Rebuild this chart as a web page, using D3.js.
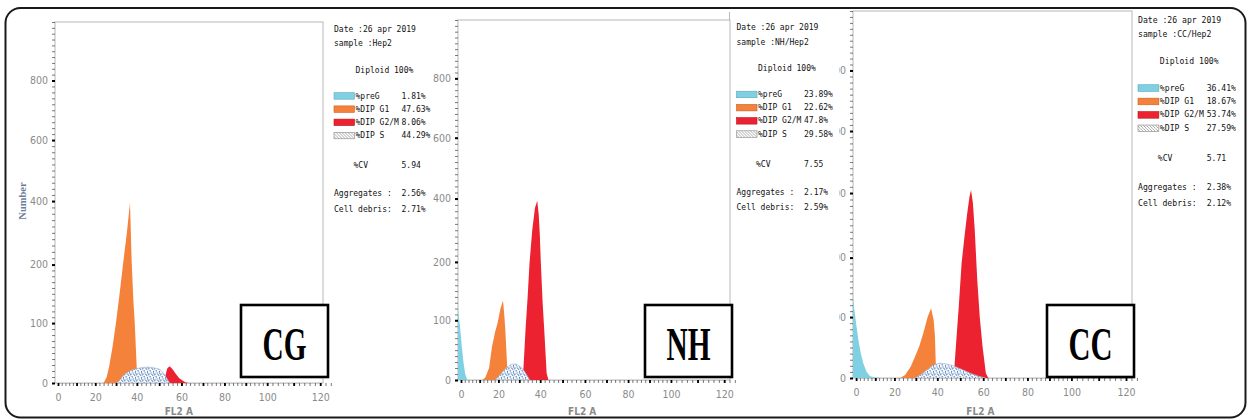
<!DOCTYPE html>
<html>
<head>
<meta charset="utf-8">
<script src="https://cdn.jsdelivr.net/npm/d3@7"></script>
<style>
  body { margin: 0; background: #fff; }
  svg { display: block; }
</style>
</head>
<body>
<svg id="chart" width="1249" height="420"></svg>
<script>
// ---- data ----
var panelNames = ["CG", "NH", "CC"];
var sampleNames = ["Hep2", "NH/Hep2", "CC/Hep2"];
var preGValues = ["1.81%", "23.89%", "36.41%"];
var g1Values = ["47.63%", "22.62%", "18.67%"];
var g2mValues = ["8.06%", "47.8%", "53.74%"];
var sValues = ["44.29%", "29.58%", "27.59%"];
var cvValues = ["5.94", "7.55", "5.71"];
var aggregateValues = ["2.56%", "2.17%", "2.38%"];
var debrisValues = ["2.71%", "2.59%", "2.12%"];

var xTicks = [0, 20, 40, 60, 80, 100, 120];
var yTicks = [0, 100, 200, 400, 600, 800];

// histogram traces: [FL2 A channel, count]
var cgPreG = [];
var cgG1 = [[24,0],[25.5,10],[26.7,28],[28.3,60],[29.9,99],[31.7,150],[33.5,210],[35.2,300],[36.7,395],[37.5,210],[38.3,140],[39,99],[39.9,28],[40.4,0]];
var cgG2M = [[52,0],[52.8,12],[53.6,24],[54.7,28],[56,23],[57.5,15],[59,8],[60.5,4],[62,1],[63.5,0]];
var cgS = [[30.3,0],[32,6],[34.1,15],[37,21],[39.9,24],[42.5,26],[45,26.7],[47.5,25.5],[50.2,23],[51.8,17],[53.2,9],[54.7,0]];

var nhPreG = [[-1.6,118],[-0.6,92],[0.4,57],[1.3,30],[2.2,11],[3,3],[3.6,0]];
var nhG1 = [[11.5,0],[13,4],[15,20],[16.6,56],[18.2,80],[19.6,96],[21,120],[22.2,134],[22.8,110],[23.3,85],[24.1,29],[24.6,0]];
var nhG2M = [[31,0],[32,20],[33,85],[34,140],[34.9,198],[36.2,300],[37.5,370],[38.6,393],[39.3,350],[39.8,290],[40.3,198],[41.1,130],[41.8,85],[42.9,11],[43.7,0]];
var nhS = [[18.4,0],[20,6],[22,14],[24,21],[26,26],[27.5,27],[29,26],[31,21],[33,12],[34,6],[35,0]];

var ccPreG = [[-1.6,133],[-1,115],[0,90],[1.15,63],[2.5,40],[3.8,24],[5.5,10],[7.3,3],[10,1],[12.5,0]];
var ccG1 = [[22.6,0],[25,5],[27.5,18],[29.6,35],[31.6,52],[33.5,74],[35.5,100],[37.1,115],[38.3,95],[38.9,69],[39.3,24],[39.8,0]];
var ccG2M = [[47,0],[47.5,20],[48.1,52],[49.4,120],[50.6,191],[51.8,262],[53,335],[54,388],[54.7,410],[55.5,370],[56.3,288],[57.4,163],[58.5,100],[59.7,52],[61.2,8],[62.3,0]];
var ccS = [[29.6,0],[32,5],[35.1,13],[38,21],[41.2,24.5],[44,23],[47,20],[51.3,13],[55,7],[58,3],[61,0]];

var traces = [
  { preG: cgPreG, g1: cgG1, g2m: cgG2M, s: cgS },
  { preG: nhPreG, g1: nhG1, g2m: nhG2M, s: nhS },
  { preG: ccPreG, g1: ccG1, g2m: ccG2M, s: ccS }
];

// ---- layout ----
var layout = [
  { left: 55,  top: 22, w: 272, h: 361, frameW: 268, infoX: 334,    infoY: 31.5, k: 1 },
  { left: 458, top: 20, w: 273, h: 360, frameW: 272, infoX: 736.5,  infoY: 30,   k: 1 },
  { left: 853, top: 11, w: 280, h: 367, frameW: 279, infoX: 1138,   infoY: 22.5, k: 1.017 }
];
var xFrac = [0.011, 0.148, 0.301, 0.465, 0.623, 0.780, 0.975];
var yFrac = [0, 0.166, 0.328, 0.504, 0.673, 0.838, 1.0];

var cyan = "#7fd0e2", orange = "#f4823a", red = "#ec2230";
var axisFont = "'Liberation Sans Narrow', 'DejaVu Sans Condensed', sans-serif";
var monoFont = "'DejaVu Sans Mono', 'Liberation Mono', monospace";

var svg = d3.select("#chart");
svg.append("rect").attr("width", 1249).attr("height", 420).attr("fill", "#fff");

var defs = svg.append("defs");
var stip = defs.append("pattern").attr("id", "stip")
  .attr("patternUnits", "userSpaceOnUse").attr("width", 6).attr("height", 6);
stip.append("rect").attr("width", 6).attr("height", 6).attr("fill", "#f4f7fb");
stip.append("path")
  .attr("d", "M0.5,1h1.2M3.5,0.3v1.2M2,3.2h1.3M4.6,3.8l0.9,0.9M0.4,4.3v1.2M3,5.4h1M5.2,1.6v1M1.5,2.2l0.8,0.8M4,2.2h0.9")
  .attr("stroke", "#3466aa").attr("stroke-width", 0.85);
var hatch = defs.append("pattern").attr("id", "hatch")
  .attr("patternUnits", "userSpaceOnUse").attr("width", 3).attr("height", 3);
hatch.append("rect").attr("width", 3).attr("height", 3).attr("fill", "#fff");
hatch.append("path").attr("d", "M0,0L3,3").attr("stroke", "#888").attr("stroke-width", 0.7);

function drawPlot(i) {
  var L = layout[i], T = traces[i];
  var bottom = L.top + L.h;
  var x = d3.scaleLinear().domain(xTicks).range(xFrac.map(function(f) { return L.left + f * L.w; }));
  var y = d3.scaleLinear().domain(yTicks.concat([1000])).range(yFrac.map(function(f) { return bottom - f * L.h; }));

  var g = svg.append("g");
  g.append("rect")
    .attr("x", L.left).attr("y", L.top).attr("width", L.frameW).attr("height", L.h)
    .attr("fill", "#fff").attr("stroke", "#b8b8b8").attr("stroke-width", 1);

  var clipId = "clip" + i;
  defs.append("clipPath").attr("id", clipId).append("rect")
    .attr("x", L.left).attr("y", L.top).attr("width", L.w).attr("height", L.h);

  var area = d3.area()
    .x(function(d) { return x(d[0]); })
    .y0(y(0))
    .y1(function(d) { return y(d[1]); });

  var plot = g.append("g").attr("clip-path", "url(#" + clipId + ")");
  var layers = [
    { data: T.preG, fill: cyan, stroke: "none" },
    { data: T.g1, fill: orange, stroke: "none" },
    { data: T.g2m, fill: red, stroke: "none" },
    { data: T.s, fill: "url(#stip)", stroke: "#9fb3cc" }
  ];
  layers.forEach(function(l) {
    if (!l.data.length) return;
    plot.append("path").datum(l.data)
      .attr("d", area).attr("fill", l.fill)
      .attr("stroke", l.stroke).attr("stroke-width", 0.6);
  });

  // y axis: minor ticks, major ticks, labels
  var yMinor = d3.range(0, 200, 10).concat(d3.range(200, 1001, 20));
  g.append("g").attr("transform", "translate(" + L.left + ",0)")
    .call(d3.axisLeft(y).tickValues(yMinor).tickSize(3).tickFormat(""))
    .call(function(a) {
      a.select(".domain").remove();
      a.selectAll("line").attr("stroke", "#555").attr("stroke-width", 0.8);
    });
  g.append("g").attr("transform", "translate(" + L.left + ",0)")
    .call(d3.axisLeft(y).tickValues(yTicks).tickSize(3).tickPadding(4))
    .call(function(a) {
      a.select(".domain").remove();
      a.selectAll("line").attr("stroke", "#000").attr("stroke-width", 2);
      a.selectAll("text").attr("fill", "#8a8a8a")
        .style("font-family", axisFont).style("font-size", "10.5px");
    });

  // x axis
  var xMinor = d3.range(0, 125, 2);
  g.append("g").attr("transform", "translate(0," + bottom + ")")
    .call(d3.axisBottom(x).tickValues(xMinor).tickSize(3).tickFormat(""))
    .call(function(a) {
      a.select(".domain").attr("stroke", "#ccc");
      a.selectAll("line").attr("stroke", "#555").attr("stroke-width", 0.8);
    });
  g.append("g").attr("transform", "translate(0," + bottom + ")")
    .call(d3.axisBottom(x).tickValues(d3.range(0, 121, 10)).tickSize(3).tickFormat(""))
    .call(function(a) {
      a.select(".domain").remove();
      a.selectAll("line").attr("stroke", "#000").attr("stroke-width", 1.8);
    });
  g.append("g").attr("transform", "translate(0," + bottom + ")")
    .call(d3.axisBottom(x).tickValues(xTicks).tickSize(0).tickPadding(11))
    .call(function(a) {
      a.select(".domain").remove();
      a.selectAll("text").attr("fill", "#8a8a8a")
        .style("font-family", axisFont).style("font-size", "10.5px");
    });

  g.append("text")
    .attr("x", L.left + 0.455 * L.w).attr("y", 415)
    .attr("text-anchor", "middle").attr("fill", "#8a8a8a")
    .style("font-family", axisFont).style("font-size", "10px").style("font-weight", "bold")
    .text("FL2 A");

  // sample label box
  var bx = L.left + L.w - 86, by = 305;
  g.append("rect").attr("x", bx).attr("y", by).attr("width", 87).attr("height", 72)
    .attr("fill", "#fff").attr("stroke", "#000").attr("stroke-width", 2.6);
  g.append("text")
    .attr("x", bx + 43.5).attr("y", by + 55)
    .attr("text-anchor", "middle")
    .attr("textLength", 44).attr("lengthAdjust", "spacingAndGlyphs")
    .style("font-family", "'Liberation Serif', 'DejaVu Serif', serif")
    .style("font-weight", "bold").style("font-size", "46px")
    .text(panelNames[i]);
}

function drawInfo(i) {
  var L = layout[i];
  var g = svg.append("g").attr("transform", "translate(" + L.infoX + "," + L.infoY + ") scale(" + L.k + ")");
  function txt(x, dy, s) {
    g.append("text").attr("x", x).attr("y", dy)
      .style("font-family", monoFont).style("font-size", "8px").attr("fill", "#111")
      .text(s);
  }
  var lx = 21.5, vx = 67.5;
  txt(0, 0, "Date :26 apr 2019");
  txt(0, 14.5, "sample :" + sampleNames[i]);
  txt(lx, 41, "Diploid 100%");
  var legend = [
    { label: "%preG", value: preGValues[i], fill: cyan, stroke: "#5aaabb" },
    { label: "%DIP G1", value: g1Values[i], fill: orange, stroke: "#c8602a" },
    { label: "%DIP G2/M", value: g2mValues[i], fill: red, stroke: "#b01820" },
    { label: "%DIP S", value: sValues[i], fill: "url(#hatch)", stroke: "#888" }
  ];
  legend.forEach(function(r, j) {
    var dy = 67 + j * 13.2;
    g.append("rect").attr("x", 0).attr("y", dy - 5.8).attr("width", 20.5).attr("height", 6.5)
      .attr("fill", r.fill).attr("stroke", r.stroke).attr("stroke-width", 0.6);
    txt(lx, dy, r.label);
    txt(vx, dy, r.value);
  });
  txt(lx - 2, 136.5, "%CV");
  txt(vx, 136.5, cvValues[i]);
  txt(0, 164.5, "Aggregates :");
  txt(vx, 164.5, aggregateValues[i]);
  txt(0, 180, "Cell debris:");
  txt(vx, 180, debrisValues[i]);
}

drawPlot(0);
drawInfo(0);
drawPlot(2);
// the NH info area hides most of the CC axis labels
svg.append("rect").attr("x", 732.5).attr("y", 10).attr("width", 106.5).attr("height", 395).attr("fill", "#fff");
drawPlot(1);
svg.append("line").attr("x1", 729.5).attr("x2", 729.5).attr("y1", 12).attr("y2", 20)
  .attr("stroke", "#b8b8b8");
drawInfo(1);
drawInfo(2);

svg.append("text")
  .attr("transform", "translate(26,201) rotate(-90)")
  .attr("text-anchor", "middle").attr("fill", "#6c7d98")
  .style("font-family", "'Liberation Serif', 'DejaVu Serif', serif")
  .style("font-weight", "bold").style("font-size", "10.5px")
  .text("Number");

svg.append("rect")
  .attr("x", 5.5).attr("y", 8).attr("width", 1240).attr("height", 409.5).attr("rx", 15)
  .attr("fill", "none").attr("stroke", "#1a1a1a").attr("stroke-width", 2);
</script>
</body>
</html>
